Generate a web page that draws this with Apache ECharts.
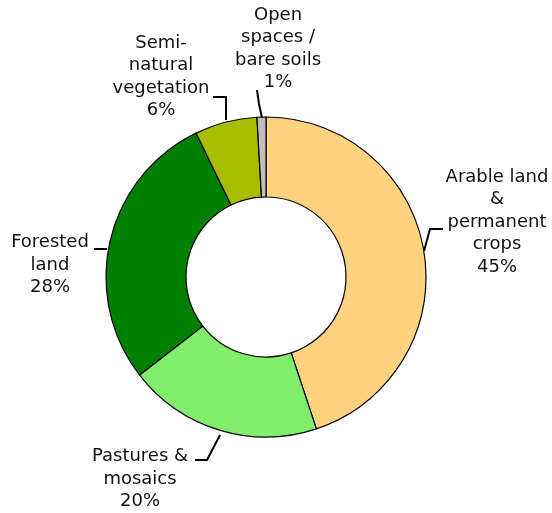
<!DOCTYPE html>
<html>
<head>
<meta charset="utf-8">
<script src="https://cdn.jsdelivr.net/npm/echarts@6/dist/echarts.min.js"></script>
<style>
html, body { margin: 0; padding: 0; background: #fff; }
#chart { width: 552px; height: 513px; }
</style>
</head>
<body>
<div id="chart"></div>
<script>
// categories, clockwise from the top
const categories = [
	'Arable land\n&\npermanent\ncrops',
	'Pastures &\nmosaics',
	'Forested\nland',
	'Semi-\nnatural\nvegetation',
	'Open\nspaces /\nbare soils'
];
// share of area (%)
const values = [44.9, 19.6, 28.3, 6.3, 0.9];
const colors = ['#FFD280', '#80EE6A', '#008000', '#A8BD00', '#C0C0C0'];

// label placement (text centre) and leader lines, px
const labelSpots = [[497, 222], [140, 479], [50, 265], [161, 77], [278, 49]];
const leaderLines = [
	[[424, 251], [430, 229], [443, 229]],
	[[220, 435], [207, 460], [195, 460]],
	[[107, 249], [101, 249], [94, 249]],
	[[226, 120], [226, 97], [213, 97]],
	[[262, 118], [259, 104], [257, 90]]
];

const chart = echarts.init(document.getElementById('chart'));
chart.setOption({
	animation: false,
	series: [
		{
			type: 'pie',
			center: [266, 277],
			radius: [80, 160],
			startAngle: 90,
			clockwise: true,
			avoidLabelOverlap: false,
			data: categories.map((c, i) => ({
				name: c,
				value: values[i],
				itemStyle: { color: colors[i] }
			})),
			itemStyle: { borderColor: '#000', borderWidth: 1.2 },
			label: {
				show: true,
				fontFamily: 'DejaVu Sans',
				fontSize: 18,
				lineHeight: 22.5,
				color: '#111',
				align: 'center',
				formatter: (p) => p.name + '\n' + Math.round(p.value) + '%'
			},
			labelLine: {
				show: true,
				smooth: false,
				lineStyle: { color: '#000', width: 2 }
			},
			labelLayout: function (params) {
				const i = params.dataIndex;
				return {
					x: labelSpots[i][0],
					y: labelSpots[i][1],
					align: 'center',
					verticalAlign: 'middle',
					labelLinePoints: leaderLines[i]
				};
			},
			emphasis: { disabled: true }
		}
	]
});
</script>
</body>
</html>
